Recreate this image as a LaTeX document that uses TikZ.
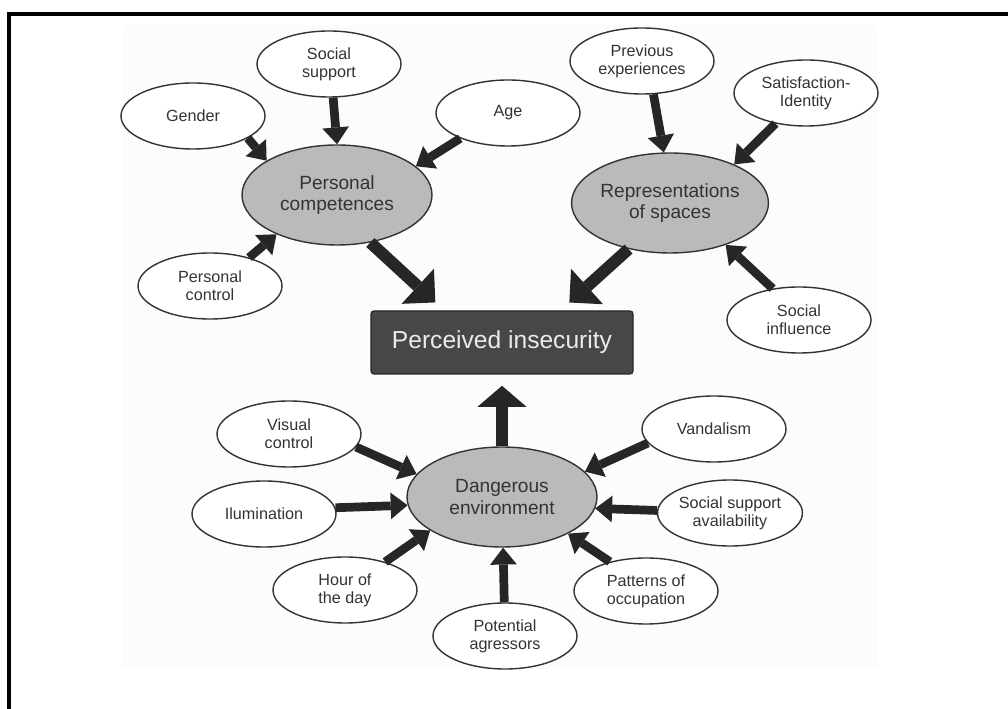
\documentclass[tikz,border=0pt]{standalone}
\usepackage{fontspec}
\setmainfont{Liberation Sans}
\usetikzlibrary{positioning, shapes.geometric, arrows.meta}

\begin{document}
\begin{tikzpicture}[
  every node/.style={font=\fontsize{11.5}{13}\selectfont},
  factor/.style={ellipse, draw=black!80, line width=1pt, fill=white,
               text=black!80, minimum width=3.6cm, minimum height=1.65cm,
               align=center, inner sep=0pt},
  corefactor/.style={factor, fill=black!27, minimum width=4.75cm,
               minimum height=2.5cm, font=\fontsize{13.6}{15.5}\selectfont},
  outcome/.style={rectangle, rounded corners=2pt, draw=black!85,
               fill=black!72, text=black!8, line width=0.8pt,
               minimum width=6.55cm, minimum height=1.575cm,
               font=\fontsize{17.5}{20}\selectfont},
  feed/.style={-{Triangle[width=19pt, length=12pt, line width=0pt]},
               line width=6.2pt, draw=black!85},
  mainfeed/.style={-{Triangle[width=34pt, length=17pt, line width=0pt]},
               line width=8.5pt, draw=black!85}
]
\useasboundingbox (0,0) rectangle (25.2,17.725);

% ---- Frame and page ----
\fill[black!1] (3.05,1.0) rectangle (21.95,17.1);
\draw[line width=2.8pt] (0.225,0) -- (0.225,17.375) -- (25.2,17.375);

% ---- Outcome ----
\node[outcome] (insec) at (12.55, 9.1625) {Perceived insecurity};

% ---- Personal competences ----
\node[corefactor] (comp) at (8.425, 12.85) {Personal\\competences};
\node[factor] (gender) at (4.825, 14.825) {Gender};
\node[factor] (socsup) at (8.225, 16.125) {Social\\support};
\node[factor] (age) at (12.7, 14.9) {Age};
\node[factor] (pcontrol) at (5.25, 10.575) {Personal\\control};

% ---- Representations of spaces ----
\node[corefactor] (repr) at (16.75, 12.65) {Representations\\of spaces};
\node[factor] (prevexp) at (16.05, 16.2) {Previous\\experiences};
\node[factor] (satisf) at (20.15, 15.4) {Satisfaction-\\Identity};
\node[factor] (socinfl) at (19.975, 9.725) {Social\\influence};

% ---- Dangerous environment ----
\node[corefactor] (danger) at (12.55, 5.3) {Dangerous\\environment};
\node[factor] (visual) at (7.225, 6.875) {Visual\\control};
\node[factor] (illum) at (6.6, 4.875) {Ilumination};
\node[factor] (hour) at (8.625, 2.975) {Hour of\\the day};
\node[factor] (aggr) at (12.625, 1.825) {Potential\\agressors};
\node[factor] (occup) at (16.15, 2.95) {Patterns of\\occupation};
\node[factor] (ssavail) at (18.25, 4.9) {Social support\\availability};
\node[factor] (vandal) at (17.85, 7.0) {Vandalism};

% ---- Arrows into the three factors ----
\draw[feed] (gender.-22) -- (comp.154);
\draw[feed] (socsup.-83) -- (comp.90);
\draw[feed] (age.208) -- (comp.20);
\draw[feed] (pcontrol.36) -- (comp.213);

\draw[feed] (prevexp.-71) -- (repr.97);
\draw[feed] (satisf.225) -- (repr.31);
\draw[feed] (socinfl.130) -- (repr.-37);

\draw[feed] (visual.-11) -- (danger.165);
\draw[feed] (illum.5) -- (danger.185);
\draw[feed] (hour.35) -- (danger.205);
\draw[feed] (aggr) -- (danger);
\draw[feed] (occup.141) -- (danger.-29);
\draw[feed] (ssavail.178) -- (danger.-7);
\draw[feed] (vandal.192) -- (danger.17);

% ---- Arrows into perceived insecurity ----
\draw[mainfeed, shorten >=8.4pt] (comp.-55) -- ([xshift=1.84cm]insec.north west);
\draw[mainfeed, shorten >=8.4pt] (repr.228) -- ([xshift=-1.825cm]insec.north east);
\draw[mainfeed, shorten >=8pt,
      -{Triangle[width=35pt, length=15pt, line width=0pt]}] (danger) -- (insec);

\end{tikzpicture}
\end{document}
